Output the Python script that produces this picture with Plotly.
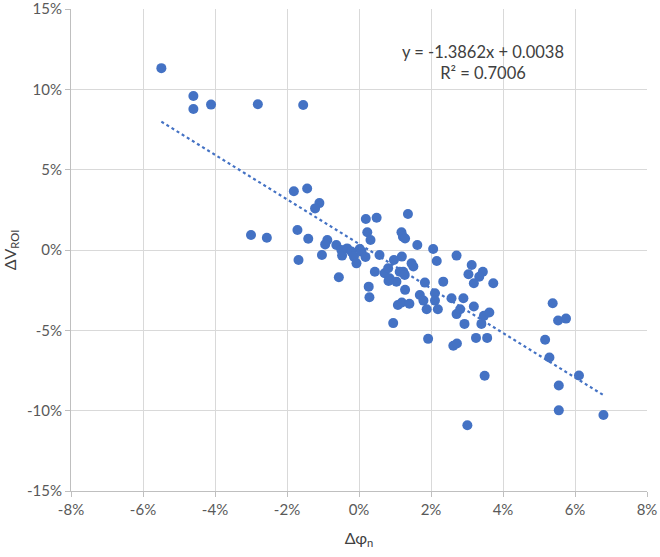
import plotly.graph_objects as go

# Data (percent units)
dphi_n = [-5.49, -4.60, -4.60, -4.11, -2.81, -1.55, -1.81, -1.44, -1.10, -1.22,
          -3.00, -2.56, -1.71, -1.41, -0.88, -0.94, -1.03, -1.68, -0.63, -0.49,
          -0.47, -0.33, -0.21, -0.14, -0.07, 0.02, 0.07, 0.18, -0.56, 0.44,
          0.57, 0.27, 0.29, 0.19, 0.49, 1.36, 0.23, 0.32, 1.18, 1.22,
          1.28, 1.62, 2.06, 2.16, 2.71, 3.13, 3.44, 3.34, 3.04, 3.19,
          3.73, 2.34, 1.83, 1.46, 1.51, 1.19, 1.23, 1.28, 1.69, 2.11,
          2.57, 2.90, 0.71, 0.85, 0.97, 0.81, 1.13, 1.27, 1.04, 1.08,
          1.19, 1.40, 0.95, 1.79, 1.88, 1.92, 2.11, 2.19, 2.71, 2.81,
          2.93, 2.62, 2.72, 3.19, 3.25, 3.40, 3.47, 3.62, 3.56, 3.49,
          3.01, 5.38, 5.53, 5.75, 5.17, 5.29, 6.11, 5.55, 5.55, 6.79,
          0.82]
dv_roi = [11.32, 9.58, 8.78, 9.05, 9.07, 9.03, 3.66, 3.83, 2.92, 2.59,
          0.93, 0.76, 1.24, 0.70, 0.62, 0.35, -0.31, -0.62, 0.31, 0.00,
          -0.35, 0.10, -0.10, -0.41, -0.83, 0.06, -0.10, -0.43, -1.70, -1.35,
          -0.31, -2.28, -2.94, 1.93, 2.01, 2.24, 1.10, 0.62, 1.10, 0.83,
          0.72, 0.31, 0.06, -0.68, -0.35, -0.93, -1.35, -1.66, -1.51, -2.07,
          -2.07, -1.97, -2.03, -0.83, -1.03, -0.41, -1.35, -2.48, -2.80, -2.69,
          -3.00, -3.00, -1.45, -1.76, -0.62, -1.14, -1.35, -1.55, -1.97, -3.42,
          -3.27, -3.35, -4.55, -3.15, -3.69, -5.53, -3.15, -3.69, -3.99, -3.69,
          -4.60, -5.96, -5.82, -3.52, -5.47, -4.60, -4.10, -3.89, -5.47, -7.83,
          -10.91, -3.31, -4.39, -4.27, -5.59, -6.69, -7.81, -8.43, -9.98, -10.27,
          -1.93]

slope = -1.3862
intercept = 0.0038
x_ticks = [-0.08, -0.06, -0.04, -0.02, 0, 0.02, 0.04, 0.06, 0.08]
x_labels = ["-8%", "-6%", "-4%", "-2%", "0%", "2%", "4%", "6%", "8%"]
y_ticks = [-0.15, -0.10, -0.05, 0, 0.05, 0.10, 0.15]
y_labels = ["-15%", "-10%", "-5%", "0%", "5%", "10%", "15%"]

xs = [v / 100 for v in dphi_n]
ys = [v / 100 for v in dv_roi]
x_line = [min(xs), max(xs)]
y_line = [slope * x + intercept for x in x_line]

blue = "#4472C4"
grey_text = "#595959"
font_fam = "Lato, sans-serif"

fig = go.Figure()
fig.add_trace(go.Scatter(x=x_line, y=y_line, mode="lines",
                         line=dict(color=blue, width=2.2, dash="dot"),
                         hoverinfo="skip", showlegend=False))
fig.add_trace(go.Scatter(x=xs, y=ys, mode="markers",
                         marker=dict(color=blue, size=10, line=dict(width=0)),
                         showlegend=False))

fig.add_annotation(x=0.0344, y=0.1165, xref="x", yref="y",
                   text="y = -1.3862x + 0.0038<br>R² = 0.7006",
                   showarrow=False, align="center",
                   font=dict(family=font_fam, size=16.5, color="#404040"))

axis_common = dict(showgrid=True, gridcolor="#d9d9d9", gridwidth=1,
                   zeroline=False, showline=True, linecolor="#bfbfbf", linewidth=1,
                   ticks="outside", ticklen=5, tickcolor="#bfbfbf",
                   tickfont=dict(family=font_fam, size=15, color=grey_text),
                   ticklabeloverflow="allow",
                   automargin=False)

fig.update_layout(
    width=660, height=557,
    margin=dict(l=71, r=13, t=9, b=66),
    paper_bgcolor="white", plot_bgcolor="white",
    xaxis=dict(range=[-0.08, 0.08], tickvals=x_ticks, ticktext=x_labels,
               title=dict(text="Δφ<sub>n</sub>", standoff=15,
                          font=dict(family=font_fam, size=16, color="#404040")),
               **axis_common),
    yaxis=dict(range=[-0.15, 0.15], tickvals=y_ticks, ticktext=y_labels,
               title=dict(text="ΔV<sub>ROI</sub>", standoff=6,
                          font=dict(family=font_fam, size=16, color="#404040")),
               **axis_common),
)

fig.write_html("out.html", config={"displayModeBar": False},
               post_script="document.body.style.margin='0';document.body.style.overflow='hidden';")
